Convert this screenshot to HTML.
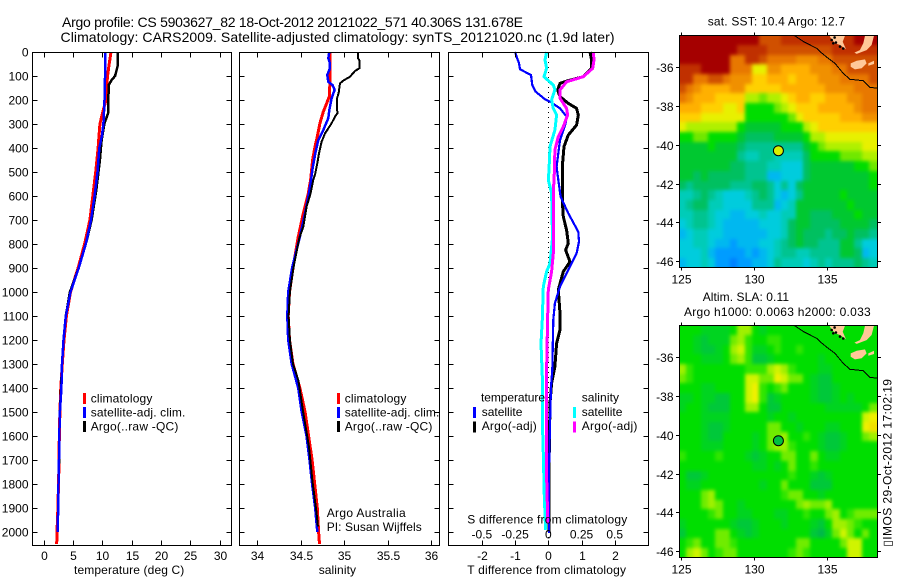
<!DOCTYPE html>
<html lang="en">
<head>
<meta charset="utf-8">
<title>Argo profile CS 5903627_82</title>
<style>
html,body{margin:0;padding:0;background:#fff;}
svg{display:block;}
text{font-family:"Liberation Sans",sans-serif;font-size:12px;fill:#000;}
.title{font-size:14px;}
</style>
</head>
<body>
<svg id="chart" xmlns="http://www.w3.org/2000/svg" width="900" height="580" viewBox="0 0 900 580">
<defs>
<clipPath id="sst-clip"><rect x="679.5" y="35.5" width="198" height="232"/></clipPath>
<clipPath id="sla-clip"><rect x="679.5" y="325.5" width="198" height="232"/></clipPath>
<filter id="map-blur" filterUnits="userSpaceOnUse" x="650" y="0" width="250" height="580" color-interpolation-filters="sRGB">
<feGaussianBlur stdDeviation="1.8"/>
</filter>
</defs>
<text class="title" x="62" y="27" textLength="461" lengthAdjust="spacing">Argo profile: CS 5903627_82 18-Oct-2012 20121022_571 40.306S 131.678E</text>
<text class="title" x="60.5" y="42" textLength="554" lengthAdjust="spacing">Climatology: CARS2009. Satellite-adjusted climatology: synTS_20121020.nc (1.9d later)</text>

<g id="plots"></g>
<g id="maps"></g>

<g>
<rect x="83" y="393" width="3" height="11" fill="#ff0000"/>
<rect x="83" y="407" width="3" height="11" fill="#0000ff"/>
<rect x="83" y="421" width="3" height="11" fill="#000"/>
<text x="90.7" y="402.5" textLength="61.7">climatology</text>
<text x="90.7" y="416.5" textLength="94.7">satellite-adj. clim.</text>
<text x="90.7" y="430.5" textLength="87.7">Argo(..raw -QC)</text>
</g>
<g>
<rect x="337" y="393" width="3" height="11" fill="#ff0000"/>
<rect x="337" y="407" width="3" height="11" fill="#0000ff"/>
<rect x="337" y="421" width="3" height="11" fill="#000"/>
<text x="344.7" y="402.5" textLength="61.7">climatology</text>
<text x="344.7" y="416.5" textLength="94.7">satellite-adj. clim.</text>
<text x="344.7" y="430.5" textLength="87.7">Argo(..raw -QC)</text>
</g>
<text x="326.7" y="517" textLength="79">Argo Australia</text>
<text x="326.7" y="531" textLength="95">PI: Susan Wijffels</text>

<g>
<text x="481" y="401.5" textLength="64">temperature</text>
<rect x="473" y="407" width="3" height="11" fill="#0000ff"/>
<rect x="473" y="421.5" width="3" height="11" fill="#000"/>
<text x="481.7" y="416" textLength="40.7">satellite</text>
<text x="481.7" y="430" textLength="55">Argo(-adj)</text>
<text x="581.7" y="401.5" textLength="37.3">salinity</text>
<rect x="573" y="407" width="3" height="11" fill="#00ffff"/>
<rect x="573" y="421.5" width="3" height="11" fill="#ff00ff"/>
<text x="581.7" y="416" textLength="40.7">satellite</text>
<text x="581.7" y="430" textLength="55.7">Argo(-adj)</text>
</g>

<text x="74" y="574" textLength="110.3">temperature (deg C)</text>
<text x="318.7" y="574" textLength="37.3">salinity</text>
<text x="467.3" y="574" textLength="158.7">T difference from climatology</text>
<text x="467.3" y="523.5" textLength="160">S difference from climatology</text>

<text x="707.7" y="25.5" textLength="137.3">sat. SST: 10.4 Argo: 12.7</text>
<text x="702.7" y="301" textLength="86.3">Altim. SLA: 0.11</text>
<text x="684" y="316" textLength="186.7">Argo h1000: 0.0063 h2000: 0.033</text>
<text transform="translate(891.5 546.7) rotate(-90)" textLength="167.7">▯IMOS 29-Oct-2012 17:02:19</text>

<script>
// ---- depth axis ----
var depthTicks = [0,100,200,300,400,500,600,700,800,900,1000,1100,1200,1300,1400,1500,1600,1700,1800,1900,2000];

// ---- temperature panel ----
var tempTicks = [0,5,10,15,20,25,30];
var climTempDepth = [0,50,100,150,200,250,300,400,500,600,700,800,900,1000,1100,1200,1300,1400,1500,1600,1700,1800,1900,2000,2050];
var climTemp = [11.5,11.2,10.9,10.75,10.65,10.1,9.6,9.3,8.9,8.4,7.9,7,5.9,4.6,3.9,3.5,3.2,2.95,2.8,2.7,2.65,2.55,2.45,2.3,2.25];
var satTempDepth = [0,100,150,200,250,300,350,400,500,600,700,800,900,1000,1100,1200,1300,1400,1500,1600,1700,1800,1900,2000];
var satTemp = [10.5,10.5,10.4,10.4,10.3,10.2,9.95,9.5,9.2,8.7,8.1,7.2,6,4.6,3.8,3.4,3.15,3.05,2.8,2.7,2.64,2.55,2.5,2.4];
var argoTempDepth = [0,61,100,117,138,255,297,367,450,575,700,783,900,1000,1100,1200,1300,1400,1500,1600,1700,1800,1900,2000];
var argoTemp = [12.7,12.6,12.2,11.6,11.1,11,10.4,9.9,9.6,9,8.2,7.4,6,4.5,3.8,3.4,3.15,3,2.8,2.7,2.65,2.55,2.5,2.4];

// ---- salinity panel ----
var salTicks = [34,34.5,35,35.5,36];
var climSalDepth = [0,131,186,207,249,297,353,394,450,533,589,672,769,900,1000,1100,1200,1300,1400,1500,1600,1700,1800,1900,2000,2050];
var climSal = [34.835,34.835,34.828,34.805,34.759,34.72,34.69,34.663,34.636,34.613,34.586,34.529,34.471,34.41,34.37,34.355,34.37,34.41,34.49,34.55,34.59,34.63,34.66,34.69,34.705,34.715];
var satSalDepth = [0,26,47,68,96,124,138,158,193,242,276,325,367,422,485,547,603,672,769,900,1000,1100,1200,1300,1400,1500,1600,1700,1800,1900,2000];
var satSal = [34.828,34.816,34.835,34.835,34.805,34.816,34.866,34.889,34.854,34.828,34.816,34.759,34.701,34.667,34.636,34.613,34.586,34.548,34.49,34.4,34.355,34.345,34.355,34.395,34.47,34.51,34.565,34.6,34.63,34.665,34.69];
var argoSalDepth = [0,26,36,68,79,103,119,131,172,193,256,269,297,339,374,422,464,506,533,589,644,728,776,900,1000,1100,1200,1300,1367,1504,1645,1783,1922,1977];
var argoSal = [35.157,35.157,35.176,35.172,35.123,35.065,34.989,34.95,34.935,34.916,34.92,34.893,34.854,34.778,34.739,34.709,34.69,34.667,34.644,34.613,34.567,34.529,34.483,34.415,34.375,34.36,34.375,34.41,34.471,34.529,34.594,34.632,34.682,34.697];

// ---- difference panel ----
var diffTTicks = [-2,-1,0,1,2];
var diffSTicks = [-0.5,-0.25,0,0.25,0.5];
var diffSTickLabels = ["-0.5","-0.25","0","0.25","0.5"];
var tSatDepth = [0,47,72,96,138,165,197,211,235,269,297,367,478,533,603,672,749,790,839,908,977,1047,1116,1325,1394,1547,1741,2005];
var tSat = [-1.004,-0.884,-0.853,-0.522,-0.482,-0.382,-0.1,0.1,0.351,0.552,0.522,0.351,0.251,0.301,0.371,0.602,0.904,0.924,0.853,0.602,0.351,0.2,0.15,0.12,0.08,0.05,0.02,0.02];
var tArgoDepth = [0,33,68,103,119,131,158,186,214,235,263,304,346,394,478,547,617,686,742,797,825,874,915,991,1089,1158,1214,1311,1380,1464,1741,2000];
var tArgo = [1.255,1.305,1.305,1.054,0.602,0.351,0.281,0.351,0.602,0.853,0.904,0.853,0.602,0.472,0.422,0.422,0.422,0.452,0.552,0.602,0.522,0.653,0.452,0.3,0.351,0.351,0.251,0.2,0.1,0.05,0.02,0.02];
var sSatDepth = [0,33,68,103,138,158,200,235,263,325,394,492,533,589,728,783,881,915,977,1116,1214,1352,1533,1672,1852,1991];
var sSat = [-0.0125,-0.025,-0.0125,-0.0325,0.0375,0.05,0.025,0.0375,0.0625,0.05,0.0125,0.005,0,0.025,0.03,0.03,0.0125,-0.0125,-0.0375,-0.045,-0.055,-0.045,-0.045,-0.0375,-0.03,-0.02];
var sArgoDepth = [0,33,68,103,124,158,193,235,263,311,353,408,506,589,728,839,915,991,1116,1325,1575,1769,1880,1964];
var sArgo = [0.339,0.344,0.334,0.2635,0.138,0.088,0.088,0.138,0.1455,0.113,0.075,0.05,0.045,0.0375,0.0375,0.0375,0.025,0,-0.005,-0.0125,-0.0125,-0.0125,-0.0075,-0.005];

// ---- map panels ----
var lonTicks = [125,130,135];
var latTicks = [-36,-38,-40,-42,-44,-46];
var gridLonStart = 124.9;
var gridLatStart = -34.37;
var gridStepDeg = 0.5;
var argoLon = 131.678;
var argoLat = -40.306;
var sstLevels = {"0":"#a50000","1":"#c03000","2":"#d05000","3":"#e87800","4":"#f09000","5":"#ffb000","6":"#ffd000","7":"#e8f000","8":"#b0f000","9":"#70e800","a":"#00dd00","b":"#00c830","c":"#00c060","d":"#00c490","e":"#00ccb8","f":"#00ccdd","g":"#00b8f0","h":"#009cff","i":"#0080ff"};
var slaLevels = {"0":"#00b84a","1":"#00c83a","2":"#00d420","3":"#00de00","4":"#30e600","5":"#70ec00","6":"#a0f000","7":"#d0f400","8":"#f0f000","9":"#f0e000"};
var sstRows = [
"000000000002221111111111000",
"000000001111222222222111111",
"000000033112333344433222222",
"111000033377445555444332222",
"113322344466555655544433332",
"234555544666665555554444333",
"345556666889887655665554433",
"555666776aaaa98766655555433",
"666777777aaaaaa976666655544",
"78888888abbbbbaaa8766666666",
"aa99aaaabccccbbbba887777777",
"bbbbabbbcddddddddba98888877",
"bbbbbbbbdeeddeeeecaaaa99988",
"bbbbbbbccdddeefffcbbbbbbaa9",
"bbcbcccccdddggfffcbbbbbbbba",
"cdcccccdddccdfdfcbbbbbbbbba",
"eedcdefffedcdfgfdbbbbbabbbb",
"edcceeffffdddgfebbbbbbbabbb",
"eeddeffggffeffeebbcccbbbabb",
"feddefgggggfffecbbccccbbbbc",
"gfeeffggggggffecbcccdccbccd",
"ffeefgghgggffedcbccdddbbdff",
"fffeghhhhghgfeddeeddddbbcgf",
"gffefhhihhggfdeeefededddcde"
];
var slaRows = [
"333222236632333333333333333",
"332122256433443333333333333",
"332112367422343343333333333",
"333222356411233333323333333",
"643333333444676433322333333",
"543333333775587553211333333",
"333223333784345333211233333",
"223221133784123333211232333",
"233211133663113333332222235",
"333222233333233233333333378",
"333211233333553323332233389",
"333211333323556334321123356",
"333222333323566433321123333",
"433334333212335533532233333",
"333333333322323533433333333",
"311233333333333433212333333",
"322333333332335333111333333",
"333563333333334553323333333",
"333565332333333356556333333",
"333345332233322334335634555",
"233333321123332333213665433",
"133335532123333333102575353",
"345335543333333355333357733",
"367534553333333454333337733"
];
var coastLon = [132.77,133.38,134.29,134.52,135.09,135.55,136.11,136.57,137.48,137.94,138.44];
var coastLat = [-34.36,-34.67,-35.02,-35.19,-35.54,-35.8,-36.31,-36.62,-36.69,-37.03,-37.08];
var islandLon = [136.62,137.03,137.6,137.71,137.37,136.91,136.62];
var islandLat = [-35.8,-35.66,-35.59,-35.8,-36.05,-36.11,-35.97];
var isletLon = [137.82,138.21,138.21,137.82];
var isletLat = [-35.8,-35.66,-35.83,-35.92];
var eyreLon = [135.2,136.23,136.07,136.3,135.89,135.55,135.2];
var eyreLat = [-34.37,-34.37,-34.68,-35.07,-34.85,-34.76,-34.42];
var yorkeLon = [137.6,138.21,138.05,137.71,137.03,136.87,137.25,137.48];
var yorkeLat = [-34.37,-34.37,-34.85,-35.11,-35.31,-35.24,-35.11,-34.76];
var speckLon = [135.32,135.43,135.61,135.89,136.11,135.52];
var speckLat = [-34.59,-34.76,-34.72,-34.93,-35.03,-34.46];

// ---- axis functions ----
function depthY(d){ return 52 + d * 0.24; }
function tempX(t){ return 43.5 + t * 5.87; }
function salX(s){ return 257.3 + (s - 34) * 87; }
function diffX(v){ return 548.3 + v * 33.2; }
function diffSX(s){ return diffX(s * 4); }
function lonX(lon){ return 680.7 + (lon - 125) * 14.63; }
function sstLatY(lat){ return 67.3 + (-36 - lat) * 19.37; }
function slaLatY(lat){ return 357.3 + (-36 - lat) * 19.37; }

var NS = "http://www.w3.org/2000/svg";
var plots = document.getElementById("plots");
var maps = document.getElementById("maps");

function svgEl(tag, parent){
  var el = document.createElementNS(NS, tag);
  parent.appendChild(el);
  return el;
}

function addProfile(parent, name, depths, values, xFn, color, width){
  var el = svgEl("polyline", parent);
  
  
  var pts = [];
  for (var i = 0; i < depths.length; i++) {
    pts.push(xFn(values[i]).toFixed(1) + "," + depthY(depths[i]).toFixed(1));
  }
  el.setAttribute("points", pts.join(" "));
  el.setAttribute("fill", "none");
  el.setAttribute("stroke", color);
  el.setAttribute("stroke-width", width);
  el.setAttribute("shape-rendering", "crispEdges");
}

function addLine(parent, name, x1, y1, x2, y2){
  var el = svgEl("line", parent);
  
  
  el.setAttribute("x1", x1);
  el.setAttribute("y1", y1);
  el.setAttribute("x2", x2);
  el.setAttribute("y2", y2);
  el.setAttribute("stroke", "#000");
  el.setAttribute("stroke-width", 1);
  el.setAttribute("shape-rendering", "crispEdges");
}

function addLabel(parent, name, x, y, str, anchor){
  var el = svgEl("text", parent);
  
  
  el.setAttribute("x", x);
  el.setAttribute("y", y);
  el.setAttribute("text-anchor", anchor);
  el.textContent = str;
}

function addFrame(parent, name, x, y, w, h){
  var el = svgEl("rect", parent);
  
  
  el.setAttribute("x", x);
  el.setAttribute("y", y);
  el.setAttribute("width", w);
  el.setAttribute("height", h);
  el.setAttribute("fill", "none");
  el.setAttribute("stroke", "#000");
  el.setAttribute("stroke-width", 1);
  el.setAttribute("shape-rendering", "crispEdges");
}

function addPanelAxes(parent, left, right, xTicks, xFn, xLabels, showDepthLabels){
  var top = 52.5, bottom = 545.5;
  depthTicks.forEach(function(d){
    var y = Math.floor(depthY(d)) + 0.5;
    addLine(parent, "depth-tick", left, y, left + 5, y);
    addLine(parent, "depth-tick", right - 5, y, right, y);
    if (showDepthLabels) {
      addLabel(parent, "depth-tick-label", 28.5, y + 4, String(d), "end");
    }
  });
  xTicks.forEach(function(v, i){
    var x = Math.round(xFn(v)) + 0.5;
    addLine(parent, "x-tick", x, top, x, top + 5);
    addLine(parent, "x-tick", x, bottom - 5, x, bottom);
    addLabel(parent, "x-tick-label", x, 560, xLabels ? xLabels[i] : String(v), "middle");
  });
  addFrame(parent, "plot-frame", left, top, right - left, bottom - top);
}

// temperature panel
var tempPanel = svgEl("g", plots);


addProfile(tempPanel, "climatology-temperature-line", climTempDepth, climTemp, tempX, "#ff0000", 3);
addProfile(tempPanel, "argo-temperature-line", argoTempDepth, argoTemp, tempX, "#000000", 2.5);
addProfile(tempPanel, "satellite-temperature-line", satTempDepth, satTemp, tempX, "#0000ff", 2.5);
addPanelAxes(tempPanel, 32.5, 231.5, tempTicks, tempX, null, true);

// salinity panel
var salPanel = svgEl("g", plots);


addProfile(salPanel, "climatology-salinity-line", climSalDepth, climSal, salX, "#ff0000", 3);
addProfile(salPanel, "satellite-salinity-line", satSalDepth, satSal, salX, "#0000ff", 2.5);
addProfile(salPanel, "argo-salinity-line", argoSalDepth, argoSal, salX, "#000000", 2);
addPanelAxes(salPanel, 239.5, 439.5, salTicks, salX, null, false);

// difference panel
var diffPanel = svgEl("g", plots);


var zeroLine = svgEl("line", diffPanel);


zeroLine.setAttribute("x1", diffX(0));
zeroLine.setAttribute("x2", diffX(0));
zeroLine.setAttribute("y1", depthY(0));
zeroLine.setAttribute("y2", depthY(2054));
zeroLine.setAttribute("stroke", "#000");
zeroLine.setAttribute("stroke-dasharray", "1 4");
zeroLine.setAttribute("shape-rendering", "crispEdges");
addProfile(diffPanel, "t-argo-difference-line", tArgoDepth, tArgo, diffX, "#000000", 3);
addProfile(diffPanel, "t-satellite-difference-line", tSatDepth, tSat, diffX, "#0000ff", 2.2);
addProfile(diffPanel, "s-satellite-difference-line", sSatDepth, sSat, diffSX, "#00ffff", 3);
addProfile(diffPanel, "s-argo-difference-line", sArgoDepth, sArgo, diffSX, "#ff00ff", 3);
addPanelAxes(diffPanel, 448.5, 648.5, diffTTicks, diffX, null, false);
diffSTicks.forEach(function(v, i){
  addLabel(diffPanel, "s-difference-tick-label", diffSX(v), 538.5, diffSTickLabels[i], "middle");
});

function addPolygon(parent, name, lons, lats, yFn){
  var el = svgEl("polygon", parent);
  
  
  var pts = lons.map(function(lon, i){ return lonX(lon).toFixed(1) + "," + yFn(lats[i]).toFixed(1); });
  el.setAttribute("points", pts.join(" "));
  el.setAttribute("fill", "#ffc898");
  el.setAttribute("stroke", "none");
}

function drawMap(cfg){
  var g = svgEl("g", maps);
  
  
  var clip = svgEl("g", g);
  
  
  clip.setAttribute("clip-path", "url(#" + cfg.clip + ")");
  var cells = svgEl("g", clip);
  
  
  cells.setAttribute("filter", "url(#map-blur)");
  cfg.rows.forEach(function(row, r){
    for (var c = 0; c < row.length; c++) {
      var cell = svgEl("rect", cells);
      
      
      var x0 = lonX(gridLonStart + c * gridStepDeg);
      var x1 = lonX(gridLonStart + (c + 1) * gridStepDeg);
      var y0 = cfg.latY(gridLatStart - r * gridStepDeg);
      var y1 = cfg.latY(gridLatStart - (r + 1) * gridStepDeg);
      if (c === 0) { x0 -= 10; }
      if (c === row.length - 1) { x1 += 10; }
      if (r === 0) { y0 -= 10; }
      if (r === cfg.rows.length - 1) { y1 += 10; }
      cell.setAttribute("x", Math.floor(x0));
      cell.setAttribute("y", Math.floor(y0));
      cell.setAttribute("width", Math.ceil(x1) - Math.floor(x0));
      cell.setAttribute("height", Math.ceil(y1) - Math.floor(y0));
      cell.setAttribute("fill", cfg.levels[row.charAt(c)]);
    }
  });
  addPolygon(clip, "land-eyre-peninsula", eyreLon, eyreLat, cfg.latY);
  addPolygon(clip, "land-yorke-peninsula", yorkeLon, yorkeLat, cfg.latY);
  addPolygon(clip, "land-kangaroo-island", islandLon, islandLat, cfg.latY);
  addPolygon(clip, "land-islet", isletLon, isletLat, cfg.latY);
  speckLon.forEach(function(lon, i){
    var speck = svgEl("circle", clip);
    
    
    speck.setAttribute("cx", lonX(lon));
    speck.setAttribute("cy", cfg.latY(speckLat[i]));
    speck.setAttribute("r", 1.3);
    speck.setAttribute("fill", "#000");
  });
  var coast = svgEl("polyline", clip);
  
  
  coast.setAttribute("points", coastLon.map(function(lon, i){ return lonX(lon).toFixed(1) + "," + cfg.latY(coastLat[i]).toFixed(1); }).join(" "));
  coast.setAttribute("fill", "none");
  coast.setAttribute("stroke", "#000");
  coast.setAttribute("stroke-width", 1);
  coast.setAttribute("shape-rendering", "crispEdges");

  var marker = svgEl("circle", g);
  
  
  marker.setAttribute("cx", lonX(argoLon));
  marker.setAttribute("cy", cfg.latY(argoLat));
  marker.setAttribute("r", 5);
  marker.setAttribute("fill", cfg.marker);
  marker.setAttribute("stroke", "#000");
  marker.setAttribute("stroke-width", 1);

  addFrame(g, "map-frame", 679.5, cfg.top, 198, 232);
  lonTicks.forEach(function(lon){
    var x = Math.round(lonX(lon)) + 0.5;
    addLine(g, "longitude-tick", x, cfg.top - 3, x, cfg.top);
    addLine(g, "longitude-tick", x, cfg.top + 232, x, cfg.top + 235);
    addLabel(g, "longitude-tick-label", x, cfg.top + 248, String(lon), "middle");
  });
  latTicks.forEach(function(lat){
    var y = Math.round(cfg.latY(lat)) + 0.5;
    addLine(g, "latitude-tick", 676, y, 679.5, y);
    addLine(g, "latitude-tick", 877.5, y, 881, y);
    addLabel(g, "latitude-tick-label", 673.5, y + 4.5, String(lat), "end");
  });
}

drawMap({name:"sst-map", clip:"sst-clip", rows:sstRows, levels:sstLevels, latY:sstLatY, top:35.5, marker:"#d8f000"});
drawMap({name:"sla-map", clip:"sla-clip", rows:slaRows, levels:slaLevels, latY:slaLatY, top:325.5, marker:"#00c040"});
</script>
</svg>
</body>
</html>
